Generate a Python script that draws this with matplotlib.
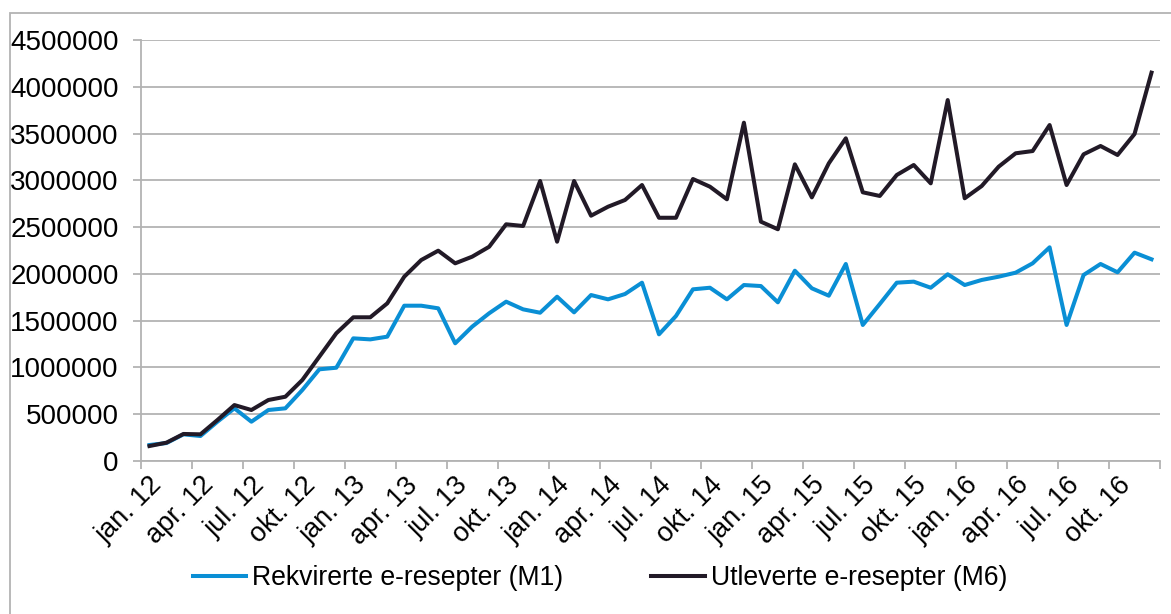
import matplotlib
matplotlib.use("Agg")
import matplotlib.pyplot as plt
from matplotlib.patches import Rectangle
from matplotlib.ticker import FixedLocator, FuncFormatter

plt.rcParams["font.family"] = ["Liberation Sans", "DejaVu Sans"]

# Monthly values, jan. 2012 - des. 2016
rekvirerte_m1 = [
    171000, 192000, 285000, 267000, 420000, 563000, 420000, 545000, 563000, 759000, 980000, 997000,
    1311000, 1300000, 1329000, 1660000, 1660000, 1632000, 1258000, 1436000, 1579000, 1703000, 1621000, 1585000,
    1756000, 1589000, 1774000, 1728000, 1785000, 1906000, 1354000, 1550000, 1835000, 1852000, 1728000, 1881000,
    1870000, 1696000, 2034000, 1846000, 1767000, 2106000, 1454000, 1678000, 1906000, 1917000, 1852000, 1996000,
    1881000, 1935000, 1970000, 2013000, 2113000, 2284000, 1454000, 1988000, 2106000, 2017000, 2227000, 2156000,
]
utleverte_m6 = [
    160000, 196000, 289000, 285000, 438000, 598000, 545000, 652000, 687000, 866000, 1115000, 1365000,
    1536000, 1536000, 1685000, 1970000, 2148000, 2248000, 2113000, 2184000, 2290000, 2530000, 2512000, 2993000,
    2344000, 2993000, 2622000, 2718000, 2790000, 2950000, 2600000, 2600000, 3014000, 2932000, 2797000, 3616000,
    2558000, 2477000, 3171000, 2818000, 3182000, 3449000, 2872000, 2833000, 3057000, 3164000, 2968000, 3858000,
    2808000, 2939000, 3146000, 3289000, 3313000, 3591000, 2950000, 3278000, 3367000, 3271000, 3495000, 4151000,
]
month_names = ["jan.", "apr.", "jul.", "okt."]
years = ["12", "13", "14", "15", "16"]
tick_labels = [f"{m} {y}" for y in years for m in month_names]

series_names = ["Rekvirerte e-resepter (M1)", "Utleverte e-resepter (M6)"]
colors = ["#0a8fd5", "#221a27"]
grey = "#b3b3b3"

fig = plt.figure(figsize=(11.71, 6.14), dpi=100)
fig.patches.append(Rectangle((10 / 1171, -0.1), 1.2, 1.1 - 13 / 614, transform=fig.transFigure,
                             fill=False, edgecolor=grey, linewidth=1.3))
ax = fig.add_axes([141 / 1171, 1 - 461 / 614, (1160 - 141) / 1171, (461 - 40) / 614])

x = list(range(len(rekvirerte_m1)))
ax.plot(x, rekvirerte_m1, color=colors[0], lw=2.9, label=series_names[0])
ax.plot(x, utleverte_m6, color=colors[1], lw=2.9, label=series_names[1])

ax.set_xlim(-0.5, len(x) - 0.5)
ax.set_ylim(0, 4500000)
ax.set_yticks(range(0, 4500001, 500000))
ax.yaxis.set_major_formatter(FuncFormatter(lambda v, p: f"{int(v)}"))
ax.grid(axis="y", color=grey, lw=1.3)
ax.set_axisbelow(True)

# ticks on category boundaries, labels at category centres
ax.xaxis.set_major_locator(FixedLocator([i - 0.5 for i in range(0, len(x) + 1, 3)]))
ax.xaxis.set_major_formatter(FuncFormatter(lambda v, p: ""))
ax.xaxis.set_minor_locator(FixedLocator(list(range(0, len(x), 3))))
ax.set_xticklabels(tick_labels, minor=True)
ax.tick_params(axis="x", which="major", length=6, width=1.3, color=grey, direction="out")
ax.tick_params(axis="x", which="minor", length=0, pad=8, labelsize=19.5)
ax.tick_params(axis="y", length=6, width=1.3, color=grey, pad=10, labelsize=20)
for lbl in ax.get_xticklabels(minor=True):
    lbl.set_rotation(45)
    lbl.set_ha("right")
    lbl.set_rotation_mode("anchor")

for side in ["top", "right"]:
    ax.spines[side].set_visible(False)
for side in ["left", "bottom"]:
    ax.spines[side].set_color(grey)
    ax.spines[side].set_linewidth(1.3)

fig.legend(loc="center", bbox_to_anchor=(600 / 1171, 1 - 578 / 614), ncol=2, frameon=False,
           fontsize=19.2, handlelength=2.0, handletextpad=0.22, columnspacing=3.3)

fig.savefig("out.png", dpi=100)
